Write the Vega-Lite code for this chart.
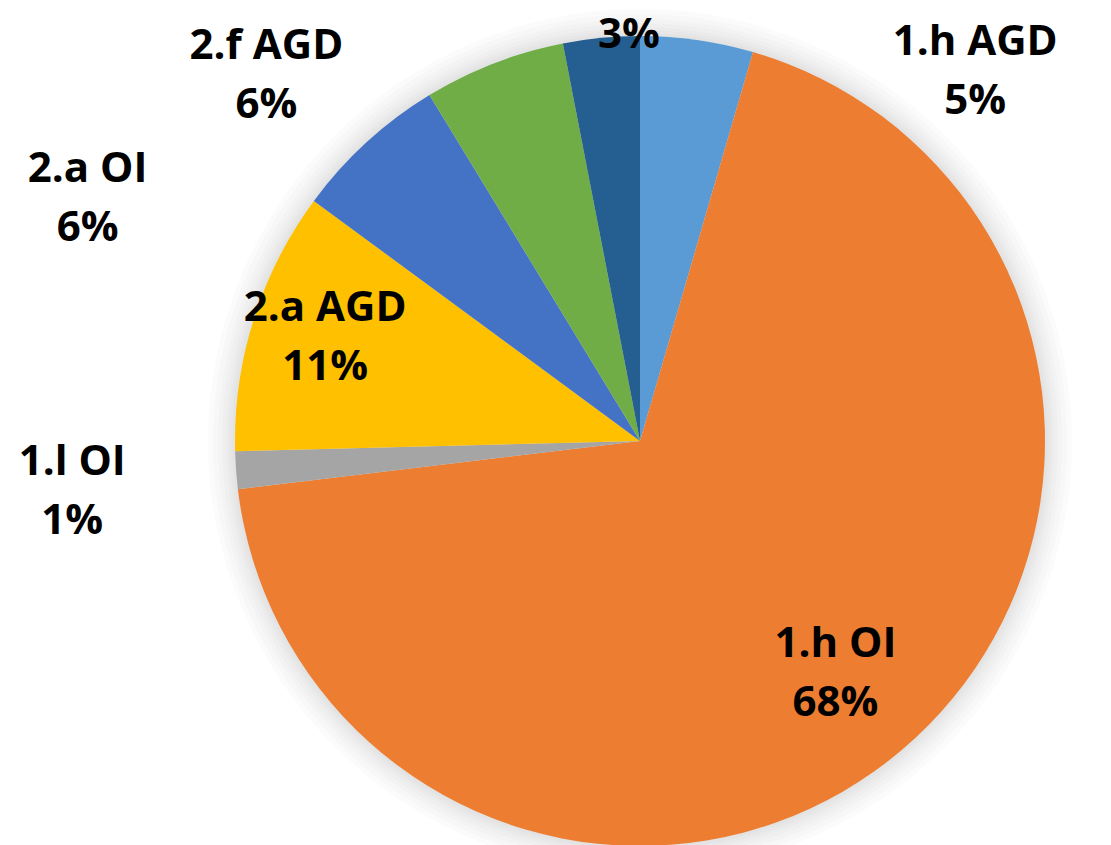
{
  "$schema": "https://vega.github.io/schema/vega-lite/v6.json",
  "width": 810,
  "height": 810,
  "autosize": {"type": "none"},
  "padding": {"left": 235, "top": 36, "right": 66, "bottom": 0},
  "background": "white",
  "config": {"view": {"stroke": null}, "text": {"font": "Open Sans"}},
  "data": {
    "values": [
      {"idx": 1, "cat": "1.h AGD", "value": 4.5, "label": "1.h AGD\n5%"},
      {"idx": 2, "cat": "1.h OI", "value": 68.6, "label": "1.h OI\n68%"},
      {"idx": 3, "cat": "1.l OI", "value": 1.5, "label": "1.l OI\n1%"},
      {"idx": 4, "cat": "2.a AGD", "value": 10.5, "label": "2.a AGD\n11%"},
      {"idx": 5, "cat": "2.a OI", "value": 6.2, "label": "2.a OI\n6%"},
      {"idx": 6, "cat": "2.f AGD", "value": 5.65, "label": "2.f AGD\n6%"},
      {"idx": 7, "cat": "Other", "value": 3.05, "label": "3%"}
    ]
  },
  "layer": [
    {"data": {"values": [{"v": 100}]}, "mark": {"type": "arc", "outerRadius": 432, "fill": "#000", "opacity": 0.015}, "encoding": {"theta": {"field": "v", "type": "quantitative", "stack": true}}},
    {"data": {"values": [{"v": 100}]}, "mark": {"type": "arc", "outerRadius": 427, "fill": "#000", "opacity": 0.015}, "encoding": {"theta": {"field": "v", "type": "quantitative", "stack": true}}},
    {"data": {"values": [{"v": 100}]}, "mark": {"type": "arc", "outerRadius": 422, "fill": "#000", "opacity": 0.015}, "encoding": {"theta": {"field": "v", "type": "quantitative", "stack": true}}},
    {"data": {"values": [{"v": 100}]}, "mark": {"type": "arc", "outerRadius": 418, "fill": "#000", "opacity": 0.015}, "encoding": {"theta": {"field": "v", "type": "quantitative", "stack": true}}},
    {"data": {"values": [{"v": 100}]}, "mark": {"type": "arc", "outerRadius": 414, "fill": "#000", "opacity": 0.015}, "encoding": {"theta": {"field": "v", "type": "quantitative", "stack": true}}},
    {"data": {"values": [{"v": 100}]}, "mark": {"type": "arc", "outerRadius": 411, "fill": "#000", "opacity": 0.015}, "encoding": {"theta": {"field": "v", "type": "quantitative", "stack": true}}},
    {"data": {"values": [{"v": 100}]}, "mark": {"type": "arc", "outerRadius": 408, "fill": "#000", "opacity": 0.015}, "encoding": {"theta": {"field": "v", "type": "quantitative", "stack": true}}},
    {
      "mark": {"type": "arc", "outerRadius": 405},
      "encoding": {
        "theta": {"field": "value", "type": "quantitative", "stack": true},
        "order": {"field": "idx", "type": "quantitative"},
        "color": {
          "field": "cat",
          "type": "nominal",
          "scale": {
            "domain": ["1.h AGD", "1.h OI", "1.l OI", "2.a AGD", "2.a OI", "2.f AGD", "Other"],
            "range": ["#5B9BD5", "#ED7D31", "#A5A5A5", "#FFC000", "#4472C4", "#70AD47", "#255E91"]
          },
          "legend": null
        }
      }
    },
    {
      "mark": {"type": "text", "radius": 302, "dy": -27, "fontSize": 42, "fontWeight": "bold", "lineBreak": "\n", "lineHeight": 59, "color": "#000"},
      "encoding": {
        "theta": {"field": "value", "type": "quantitative", "stack": true},
        "order": {"field": "idx", "type": "quantitative"},
        "text": {"condition": {"test": "datum.cat === '1.h OI'", "field": "label"}, "value": ""}
      }
    },
    {
      "mark": {"type": "text", "radius": 330, "dy": -34, "fontSize": 42, "fontWeight": "bold", "lineBreak": "\n", "lineHeight": 59, "color": "#000"},
      "encoding": {
        "theta": {"field": "value", "type": "quantitative", "stack": true},
        "order": {"field": "idx", "type": "quantitative"},
        "text": {"condition": {"test": "datum.cat === '2.a AGD'", "field": "label"}, "value": ""}
      }
    },
    {
      "mark": {"type": "text", "radius": 470, "dx": -99, "dy": -13, "fontSize": 42, "fontWeight": "bold", "lineBreak": "\n", "lineHeight": 59, "color": "#000"},
      "encoding": {
        "theta": {"field": "value", "type": "quantitative", "stack": true},
        "order": {"field": "idx", "type": "quantitative"},
        "text": {"condition": {"test": "datum.cat === '1.l OI'", "field": "label"}, "value": ""}
      }
    },
    {
      "mark": {"type": "text", "radius": 470, "dx": -235, "dy": 75, "fontSize": 42, "fontWeight": "bold", "lineBreak": "\n", "lineHeight": 59, "color": "#000"},
      "encoding": {
        "theta": {"field": "value", "type": "quantitative", "stack": true},
        "order": {"field": "idx", "type": "quantitative"},
        "text": {"condition": {"test": "datum.cat === '2.a OI'", "field": "label"}, "value": ""}
      }
    },
    {
      "mark": {"type": "text", "radius": 470, "dx": -204, "dy": 43, "fontSize": 42, "fontWeight": "bold", "lineBreak": "\n", "lineHeight": 59, "color": "#000"},
      "encoding": {
        "theta": {"field": "value", "type": "quantitative", "stack": true},
        "order": {"field": "idx", "type": "quantitative"},
        "text": {"condition": {"test": "datum.cat === '2.f AGD'", "field": "label"}, "value": ""}
      }
    },
    {
      "mark": {"type": "text", "radius": 408, "dx": 28, "fontSize": 42, "fontWeight": "bold", "lineBreak": "\n", "lineHeight": 59, "color": "#000"},
      "encoding": {
        "theta": {"field": "value", "type": "quantitative", "stack": true},
        "order": {"field": "idx", "type": "quantitative"},
        "text": {"condition": {"test": "datum.cat === 'Other'", "field": "label"}, "value": ""}
      }
    },
    {
      "mark": {"type": "text", "radius": 470, "dx": 269, "dy": 66, "fontSize": 42, "fontWeight": "bold", "lineBreak": "\n", "lineHeight": 59, "color": "#000"},
      "encoding": {
        "theta": {"field": "value", "type": "quantitative", "stack": true},
        "order": {"field": "idx", "type": "quantitative"},
        "text": {"condition": {"test": "datum.cat === '1.h AGD'", "field": "label"}, "value": ""}
      }
    }
  ]
}
